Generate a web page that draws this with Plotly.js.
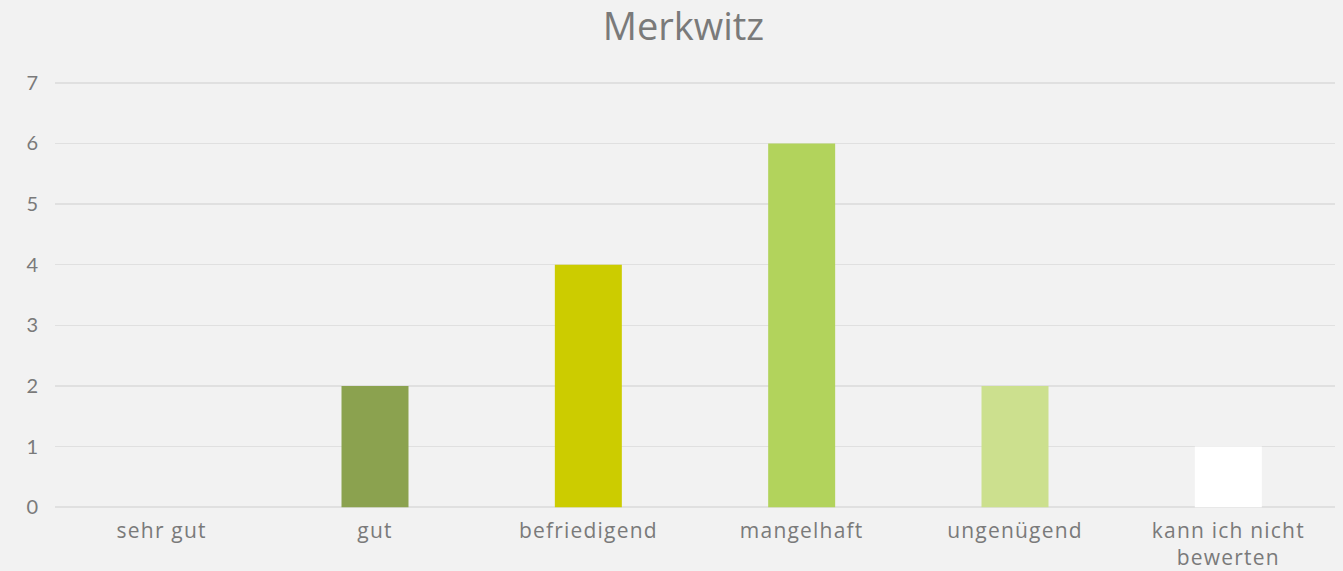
<!DOCTYPE html>
<html>
<head>
<meta charset="utf-8">
<script src="https://cdn.plot.ly/plotly-3.0.1.min.js"></script>
<style>
html,body{margin:0;padding:0;background:#f2f2f2;}
.xtick text{letter-spacing:1.2px;}
</style>
</head>
<body>
<div id="chart" style="width:1343px;height:571px;"></div>
<script>
const categories = ["sehr gut", "gut", "befriedigend", "mangelhaft", "ungenügend", "kann ich nicht<br>bewerten"];
const values = [0, 2, 4, 6, 2, 1];
const barColors = ["#6b8e23", "#8ba24f", "#cccc00", "#b2d35c", "#cce08e", "#ffffff"];
const yTicks = [0, 1, 2, 3, 4, 5, 6, 7];

const trace = {
  type: "bar",
  x: categories,
  y: values,
  marker: {color: barColors, line: {width: 0}},
  hoverinfo: "x+y"
};

const layout = {
  width: 1343,
  height: 571,
  paper_bgcolor: "#f2f2f2",
  plot_bgcolor: "#f2f2f2",
  margin: {l: 55, r: 8, t: 81, b: 62},
  bargap: 0.686,
  showlegend: false,
  title: {
    text: "Merkwitz",
    font: {family: "Open Sans, sans-serif", size: 38, color: "#7a7a7a"},
    xref: "paper", x: 0.491, xanchor: "center", y: 0.953, yanchor: "middle"
  },
  xaxis: {
    type: "category",
    tickfont: {family: "Open Sans, sans-serif", size: 21, color: "#7a7a7a"},
    showgrid: false,
    zeroline: false,
    showline: false,
    ticks: "",
    automargin: false,
    ticklabelstandoff: 7
  },
  yaxis: {
    range: [-0.03, 7.03],
    tickvals: yTicks,
    ticktext: yTicks.map(String),
    tickfont: {family: "Lato, sans-serif", size: 20, color: "#7a7a7a"},
    gridcolor: "#e0e0e0",
    gridwidth: 1.6,
    zeroline: false,
    showline: false,
    ticks: "",
    ticklabelstandoff: 16,
    automargin: false
  }
};

Plotly.newPlot("chart", [trace], layout, {displayModeBar: false, staticPlot: true});
</script>
</body>
</html>
